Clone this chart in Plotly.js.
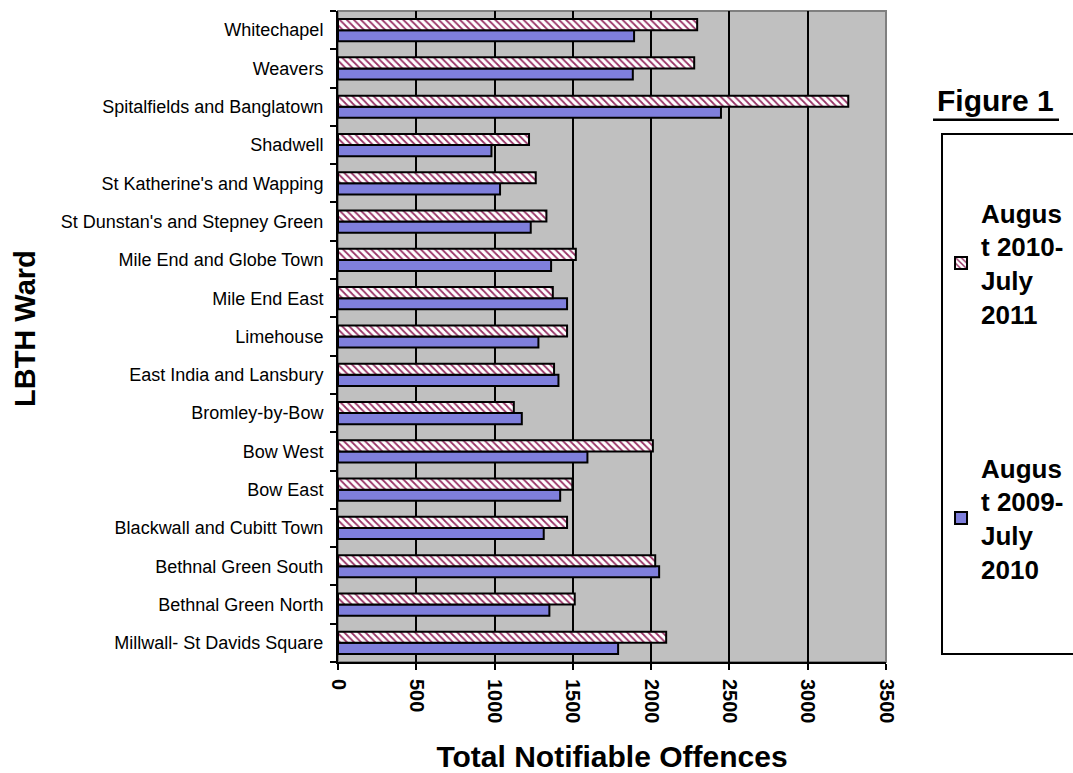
<!DOCTYPE html>
<html><head><meta charset="utf-8">
<script src="https://cdn.plot.ly/plotly-3.0.1.min.js"></script>
<style>body{margin:0;background:#fff}#chart{width:1073px;height:773px}</style>
</head><body><div id="chart"></div>
<script>
const wards = ["Millwall- St Davids Square","Bethnal Green North","Bethnal Green South","Blackwall and Cubitt Town","Bow East","Bow West","Bromley-by-Bow","East India and Lansbury","Limehouse","Mile End East","Mile End and Globe Town","St Dunstan's and Stepney Green","St Katherine's and Wapping","Shadwell","Spitalfields and Banglatown","Weavers","Whitechapel"];
const y2010_11 = [2096,1512,2026,1463,1497,2011,1123,1380,1463,1372,1519,1331,1263,1220,3259,2275,2294];
const y2009_10 = [1789,1350,2051,1314,1419,1593,1174,1408,1280,1463,1361,1231,1035,980,2446,1883,1891];
const name1 = "Augus<br>t 2010-<br>July<br>2011";
const name2 = "Augus<br>t 2009-<br>July<br>2010";
const xTicks = [0,500,1000,1500,2000,2500,3000,3500];
const yTitle = "LBTH Ward";
const xTitle = "Total Notifiable Offences";

const traces = [
  {type:'bar', orientation:'h', y:wards, x:y2009_10, name:name2, legend:'legend2',
   marker:{color:'#7f7fdc', line:{color:'#000', width:2}}},
  {type:'bar', orientation:'h', y:wards, x:y2010_11, name:name1, legend:'legend',
   marker:{color:'#ffffff', line:{color:'#000', width:2},
     pattern:{shape:'\\', fgcolor:'#993366', bgcolor:'#ffffff', size:5, solidity:0.35}}}
];
const legFont = {family:'Arial, Liberation Sans, sans-serif', size:26, color:'#000', weight:'bold'};
const layout = {
  width:1073, height:773,
  margin:{l:338, r:187, t:11, b:111, autoexpand:false},
  paper_bgcolor:'#fff', plot_bgcolor:'#c0c0c0',
  barmode:'group', bargap:0.42, bargroupgap:0,
  showlegend:true,
  font:{family:'Arial, Liberation Sans, sans-serif', color:'#000'},
  xaxis:{range:[0,3500], tickvals:xTicks, ticktext:xTicks.map(String), tickangle:90,
    tickfont:{size:20, weight:'bold'}, ticks:'outside', ticklen:6, tickwidth:2, tickcolor:'#000',
    ticklabelstandoff:5,
    showgrid:true, gridcolor:'#000', gridwidth:2, zeroline:false,
    showline:true, linecolor:'#000', linewidth:2,
    title:{text:'<b>'+xTitle+'</b>', font:{size:30}, standoff:25}},
  yaxis:{type:'category', categoryorder:'array', categoryarray:wards,
    tickfont:{size:18}, ticks:'outside', ticklen:6, tickwidth:2, tickcolor:'#000', tickson:'boundaries',
    ticklabelstandoff:9,
    showline:true, linecolor:'#000', linewidth:2, showgrid:false},
  legend:{x:1.1004, y:0.7266, xanchor:'left', yanchor:'top', bgcolor:'rgba(0,0,0,0)', font:legFont},
  legend2:{x:1.1004, y:0.3349, xanchor:'left', yanchor:'top', bgcolor:'rgba(0,0,0,0)', font:legFont},
  shapes:[
    {type:'rect', xref:'paper', yref:'paper', x0:0, x1:1, y0:0, y1:1, line:{color:'#808080', width:2}, layer:'below'},
    {type:'rect', xref:'paper', yref:'paper', x0:1.1022, x1:1.36, y0:0.0123, y1:0.811, line:{color:'#000', width:2}},
    {type:'line', xref:'paper', yref:'paper', x0:1.0858, x1:1.3157, y0:0.833, y1:0.833, line:{color:'#000', width:2.5}}
  ],
  annotations:[
    {xref:'paper', yref:'paper', x:1.2007, y:0.862, xanchor:'center', yanchor:'middle', showarrow:false,
     text:'<b>Figure 1</b>', font:{size:30, color:'#000'}},
    {xref:'paper', yref:'paper', x:-0.5712, y:0.513, xanchor:'center', yanchor:'middle', showarrow:false,
     textangle:-90, text:'<b>'+yTitle+'</b>', font:{size:29, color:'#000'}}
  ]
};
Plotly.newPlot('chart', traces, layout, {displayModeBar:false, staticPlot:true});
</script></body></html>
